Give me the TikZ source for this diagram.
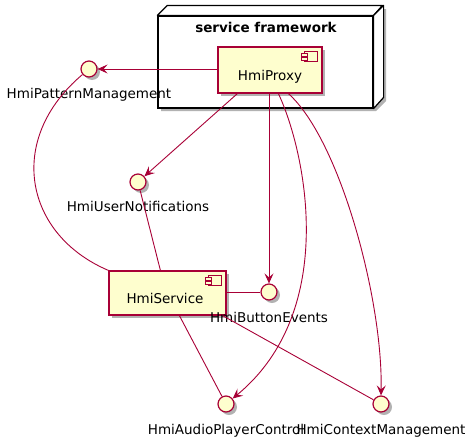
\documentclass[tikz,border=0pt]{standalone}
\usepackage{fontspec}
\setmainfont{DejaVu Sans}
\usetikzlibrary{shadows,arrows.meta,calc}
\definecolor{umlred}{HTML}{A80036}
\definecolor{umlfill}{HTML}{FEFECE}
\newcommand\compicon[1]{%
  \draw[iconst] ($(#1.north east)+(-18,5)$) rectangle ($(#1.north east)+(-5,15)$);
  \draw[iconst] ($(#1.north east)+(-21,7)$) rectangle ($(#1.north east)+(-15,10)$);
  \draw[iconst] ($(#1.north east)+(-21,11)$) rectangle ($(#1.north east)+(-15,14)$);
}
\begin{document}
\begin{tikzpicture}[x=1pt,y=-1pt,
  shd/.style={drop shadow={shadow xshift=3pt,shadow yshift=-3pt,opacity=0.3,fill=black}},
  comp/.style={draw=umlred,fill=umlfill,line width=1.2pt,shd,inner sep=0pt},
  iconst/.style={draw=umlred,fill=umlfill,line width=0.9pt},
  iface/.style={circle,draw=umlred,fill=umlfill,line width=1.2pt,minimum size=16pt,inner sep=0pt,shd},
  lbl/.style={font=\fontsize{13.5}{16}\selectfont,inner sep=0pt,anchor=base},
  ln/.style={draw=umlred,line width=0.9pt},
  arr/.style={ln,-{Stealth[length=10pt,width=9pt,inset=4pt]}}]
\useasboundingbox (0,0) rectangle (474,442);
% service framework node
\fill[black,opacity=0.3] (161,19) -- (171,9) -- (386,9) -- (386,101) -- (376,111) -- (161,111) -- cycle;
\node[draw=black,fill=white,line width=1.2pt,minimum width=215pt,minimum height=92pt,inner sep=0pt] (fw) at (265.5,62) {};
\draw[black,fill=white,line width=1.2pt,line join=round] (fw.north west) -- ++(10,-10) -- ++(215,0) -- (fw.north east) -- cycle;
\draw[black,fill=white,line width=1.2pt,line join=round] (fw.north east) -- ++(10,-10) -- ++(0,92) -- (fw.south east) -- cycle;
\node[lbl,font=\bfseries\fontsize{13.5}{16}\selectfont] (fwt) at (266,32) {service framework};
% components
\node[comp,minimum width=104pt,minimum height=46pt] (proxy) at (270,70) {};
\node[lbl] (proxyt) at (270,80) {HmiProxy};
\compicon{proxy}
\node[comp,minimum width=117pt,minimum height=44pt] (service) at (167.5,293) {};
\node[lbl] (servicet) at (165,303) {HmiService};
\compicon{service}
% interfaces
\node[iface] (pm) at (89,69) {};
\node[lbl] (pml) at (89,98) {HmiPatternManagement};
\node[iface] (un) at (138,182) {};
\node[lbl] (unl) at (138,211) {HmiUserNotifications};
\node[iface] (be) at (269,292) {};
\node[lbl] (bel) at (269,322) {HmiButtonEvents};
\node[iface] (ap) at (226,404) {};
\node[lbl] (apl) at (226,434) {HmiAudioPlayerControl};
\node[iface] (cm) at (381,404) {};
\node[lbl] (cml) at (381,434) {HmiContextManagement};
% connectors
\draw[arr] (proxy.west |- pm) -- (pm.east);
\draw[arr] ([xshift=20pt]proxy.south west) -- (un);
\draw[arr] (proxy.south -| be) -- (be.north);
\draw[arr] ([xshift=61pt]proxy.south west) .. controls (305,150) and (340,310) .. (ap);
\draw[arr] ([xshift=71pt]proxy.south west) .. controls (340,140) and (383,300) .. (cm.north);
\draw[ln] (pm) .. controls (5,140) and (25,235) .. (service.north west);
\draw[ln] (un) -- ([xshift=52pt]service.north west);
\draw[ln] (service.east |- be) -- (be.west);
\draw[ln] ([xshift=71pt]service.south west) -- (ap);
\draw[ln] ([xshift=-4pt]service.south east) -- (cm);
\end{tikzpicture}
\end{document}
